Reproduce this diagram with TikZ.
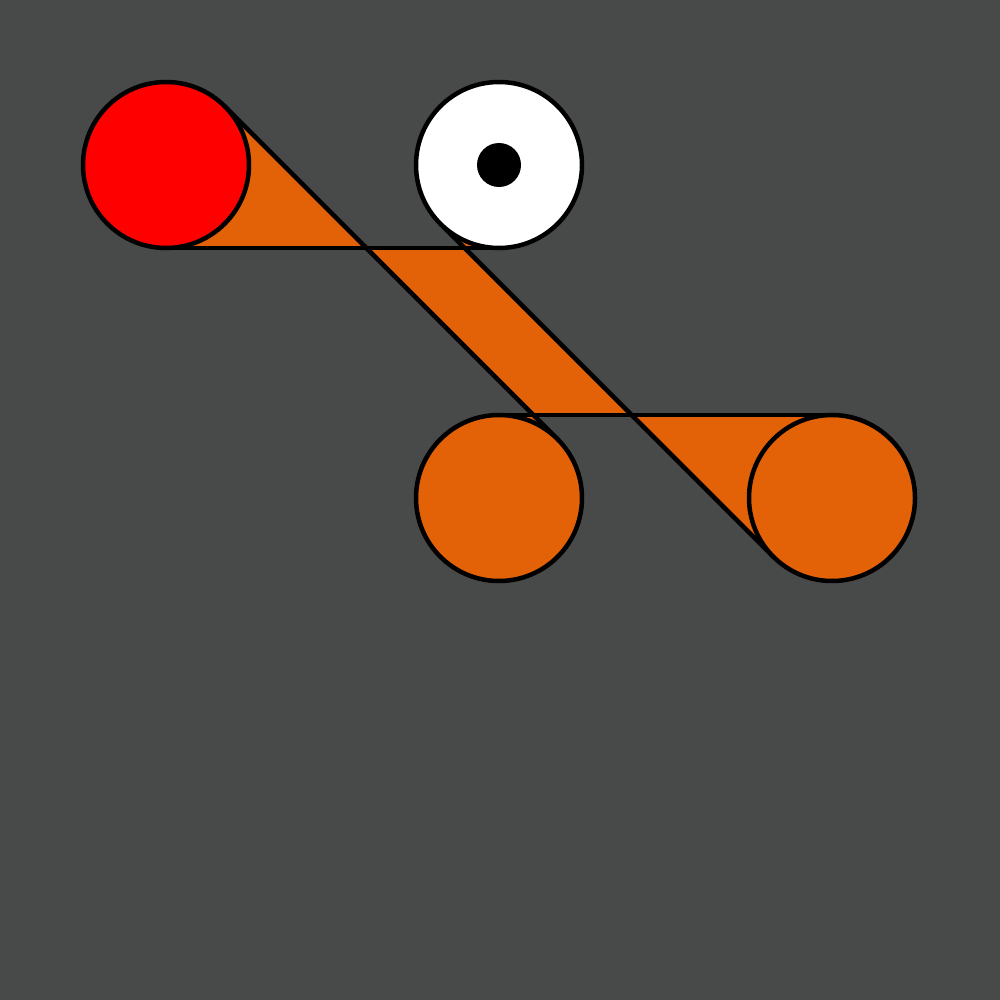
\documentclass[tikz,border=0pt]{standalone}
\definecolor{bgc}{RGB}{72,73,73}
\definecolor{band}{RGB}{227,98,8}
\pgfdeclarelayer{bg}
\pgfdeclarelayer{mid}
\pgfsetlayers{bg,mid,main}
\begin{document}
\begin{tikzpicture}[x=1pt,y=-1pt,
  disc/.style={circle,draw=black,line width=4.5pt,minimum size=166pt,inner sep=0pt,outer sep=0pt},
  edgeline/.style={draw=black,line width=4.5pt},
  bandfill/.style={fill=band}]
\node[disc,fill=red] (r) at (166,165) {};
\node[disc,fill=white] (w) at (499,165) {};
\node[circle,fill=black,minimum size=44pt,inner sep=0pt] (dot) at (499,165) {};
\node[disc,fill=band] (m) at (499,498) {};
\node[disc,fill=band] (e) at (832,498) {};
\begin{pgfonlayer}{bg}
\fill[bgc] (0,0) rectangle (1000,1000);
\end{pgfonlayer}
\begin{pgfonlayer}{mid}
\coordinate (a) at (intersection of r.45--m.45 and r.south--w.south);
\coordinate (b) at (intersection of w.225--e.225 and r.south--w.south);
\coordinate (c) at (intersection of w.225--e.225 and m.north--e.north);
\coordinate (d) at (intersection of r.45--m.45 and m.north--e.north);
\fill[bandfill] (r.center) -- (r.45) -- (a) -- (r.south) -- cycle;
\fill[bandfill] (a) -- (b) -- (c) -- (d) -- cycle;
\fill[bandfill] (c) -- (e.north) -- (e.center) -- (e.225) -- cycle;
\fill[bandfill] (w.225) -- (b) -- (w.south) -- (w.center) -- cycle;
\fill[bandfill] (m.north) -- (d) -- (m.45) -- (m.center) -- cycle;
\draw[edgeline] (r.45) -- (m.45);
\draw[edgeline] (w.225) -- (e.225);
\draw[edgeline] (r.south) -- (w.south);
\draw[edgeline] (m.north) -- (e.north);
\end{pgfonlayer}
\end{tikzpicture}
\end{document}
